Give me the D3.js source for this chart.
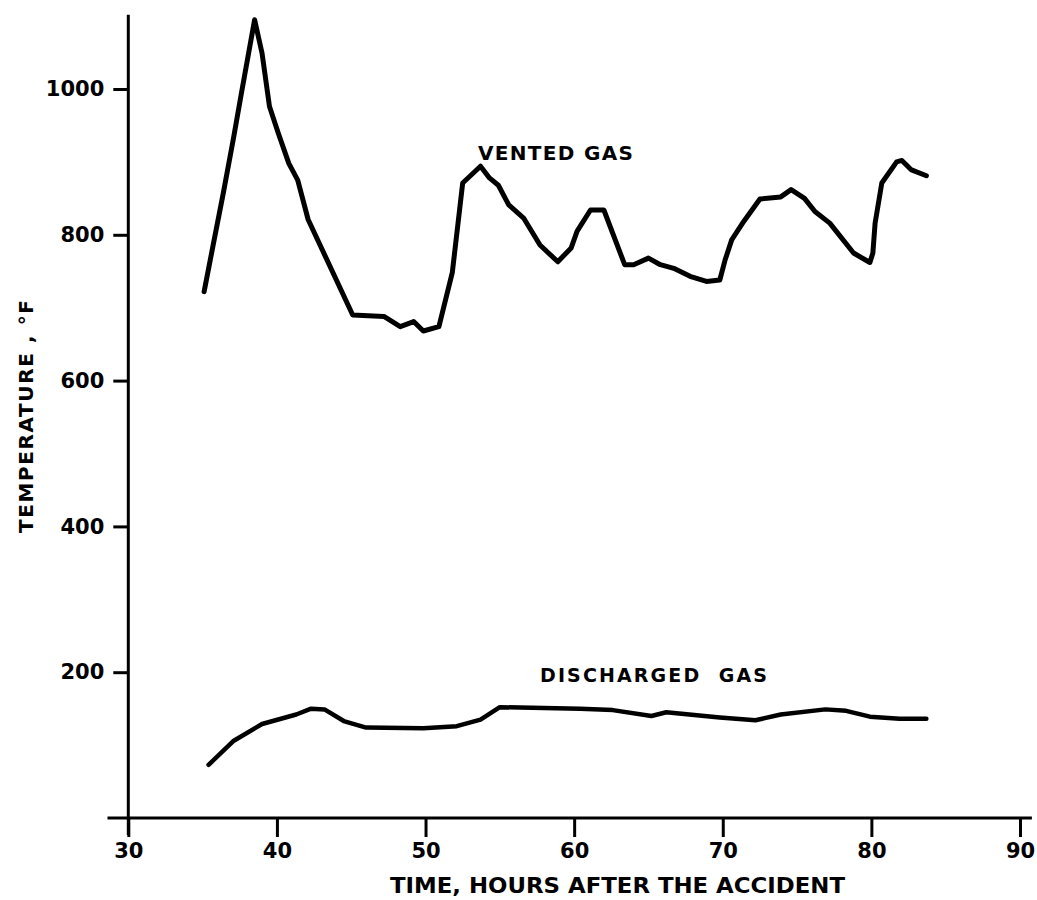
<!DOCTYPE html>
<html lang="en">
<head>
<meta charset="utf-8">
<title>Vented and discharged gas temperature</title>
<script src="https://cdn.jsdelivr.net/npm/d3@7"></script>
<style>
  body { margin: 0; background: #fff; }
  text { font-family: "DejaVu Sans", sans-serif; fill: #000; }
</style>
</head>
<body>
<script>
// hours after the accident, temperature in deg F
var ventedHours = [35.1, 35.7, 36.4, 37.1, 37.6, 38.5, 39.0, 39.5, 40.1, 40.8, 41.4, 42.1, 45.1, 47.2, 48.3, 49.2,
                   49.85, 50.9, 51.8, 52.5, 53.7, 54.3, 54.9, 55.6, 56.6, 57.7, 58.9, 59.8, 60.2, 61.1, 62.0, 63.4,
                   64.0, 65.0, 65.8, 66.7, 67.8, 68.9, 69.8, 70.15, 70.6, 71.4, 72.5, 73.9, 74.6, 75.5, 76.2, 77.2,
                   78.8, 79.9, 80.1, 80.25, 80.7, 81.7, 82.05, 82.7, 83.7];
var ventedTemp = [722, 785, 858, 935, 993, 1095, 1049, 976, 939, 898, 875, 821, 690, 688, 674, 681,
                  668, 674, 748, 871, 894, 878, 868, 841, 823, 786, 763, 782, 805, 834, 834, 759,
                  759, 768, 759, 754, 743, 736, 738, 765, 793, 818, 849, 852, 862, 850, 832, 816,
                  775, 762, 775, 816, 871, 900, 902, 889, 881];

var dischargedHours = [35.4, 37.1, 39.0, 41.3, 42.3, 43.2, 44.5, 46.0, 49.85, 52.1, 53.7, 55.0, 60.4, 62.6,
                       65.2, 66.2, 69.8, 72.2, 73.9, 76.9, 78.3, 79.9, 81.9, 83.7];
var dischargedTemp = [73, 106, 129, 142, 150, 149, 133, 124, 123, 126, 135, 152, 150, 148,
                      140, 145, 138, 134, 142, 149, 147, 139, 136, 136];

var xTicks = [30, 40, 50, 60, 70, 80, 90];
var yTicks = [200, 400, 600, 800, 1000];

var width = 1037, height = 900;

var svg = d3.select("body").append("svg")
            .attr("width", width)
            .attr("height", height);

var x = d3.scaleLinear().domain([30, 90]).range([128.3, 1020]);
var y = d3.scaleLinear().domain([0, 1000]).range([818, 89]);

// axes
var xAxis = svg.append("g")
    .attr("transform", "translate(0," + y(0) + ")")
    .call(d3.axisBottom(x).tickValues(xTicks).tickSize(19).tickPadding(6).tickFormat(d3.format("d")));
xAxis.select(".domain").remove();
xAxis.selectAll(".tick line").attr("stroke", "#000").attr("stroke-width", 3);
xAxis.selectAll(".tick text").attr("font-size", 21).attr("font-weight", "bold");

var yAxis = svg.append("g")
    .attr("transform", "translate(" + x(30) + ",0)")
    .call(d3.axisLeft(y).tickValues(yTicks).tickSize(15).tickPadding(9).tickFormat(d3.format("d")));
yAxis.select(".domain").remove();
yAxis.selectAll(".tick line").attr("stroke", "#000").attr("stroke-width", 3);
yAxis.selectAll(".tick text").attr("font-size", 21).attr("font-weight", "bold");

// axis lines
svg.append("line")
   .attr("x1", x(28.6)).attr("x2", x(90.8))
   .attr("y1", y(0)).attr("y2", y(0))
   .attr("stroke", "#000").attr("stroke-width", 3);
svg.append("line")
   .attr("x1", x(30)).attr("x2", x(30))
   .attr("y1", y(1102)).attr("y2", y(0) + 17)
   .attr("stroke", "#000").attr("stroke-width", 3);

// curves
var line = d3.line()
    .x(function(d){ return x(d[0]); })
    .y(function(d){ return y(d[1]); });

svg.append("path")
   .datum(d3.zip(ventedHours, ventedTemp))
   .attr("d", line)
   .attr("fill", "none").attr("stroke", "#000")
   .attr("stroke-width", 5).attr("stroke-linejoin", "round").attr("stroke-linecap", "round");

svg.append("path")
   .datum(d3.zip(dischargedHours, dischargedTemp))
   .attr("d", line)
   .attr("fill", "none").attr("stroke", "#000")
   .attr("stroke-width", 4.5).attr("stroke-linejoin", "round").attr("stroke-linecap", "round");

// labels
svg.append("text")
   .attr("x", 478).attr("y", 160)
   .attr("font-size", 20).attr("font-weight", "bold")
   .attr("textLength", 155).attr("lengthAdjust", "spacing")
   .text("VENTED GAS");

svg.append("text")
   .attr("x", 540).attr("y", 682)
   .attr("font-size", 19).attr("font-weight", "bold")
   .attr("textLength", 227).attr("lengthAdjust", "spacing")
   .style("white-space", "pre")
   .text("DISCHARGED  GAS");

svg.append("text")
   .attr("x", 390).attr("y", 893)
   .attr("font-size", 21).attr("font-weight", "bold")
   .attr("font-family", "'DejaVu Sans Condensed', sans-serif")
   .attr("textLength", 455).attr("lengthAdjust", "spacingAndGlyphs")
   .text("TIME, HOURS AFTER THE ACCIDENT");

svg.append("text")
   .attr("transform", "translate(33,533) rotate(-90)")
   .attr("font-size", 20).attr("font-weight", "bold")
   .attr("textLength", 233).attr("lengthAdjust", "spacing")
   .style("white-space", "pre")
   .text("TEMPERATURE , \u00B0F");

</script>
</body>
</html>
